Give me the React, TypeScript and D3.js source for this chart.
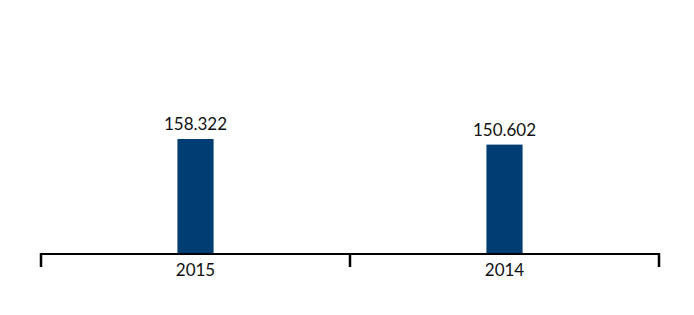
import React from "react";
import * as d3 from "d3";

const categories = ["2015", "2014"];
const values = [158.322, 150.602];
const valueLabels = ["158.322", "150.602"];

export default function App() {
  const width = 694;
  const height = 315;
  const x = d3.scaleBand<string>().domain(categories).range([41, 659]).padding(0);
  const y = d3.scaleLinear().domain([0, 300]).range([254, 254 - 217.9]);
  const barW = x.bandwidth() * 0.117;
  const ticks = [41, ...categories.map((c) => (x(c) as number) + x.bandwidth())];
  const font = "Lato, 'Open Sans', sans-serif";
  return (
    <svg width={width} height={height} style={{ position: "absolute", left: 0, top: 0, background: "#fff" }}>
      {categories.map((c, i) => {
        const cx = (x(c) as number) + x.bandwidth() / 2;
        return (
          <g key={c}>
            <rect x={cx - barW / 2} y={y(values[i])} width={barW} height={y(0) - y(values[i])} fill="#003d73" />
            <text x={cx} y={y(values[i]) - 9} textAnchor="middle" fontFamily={font} fontSize={17} fill="#111">
              {valueLabels[i]}
            </text>
            <text x={cx} y={276} textAnchor="middle" fontFamily={font} fontSize={17} fill="#111">
              {c}
            </text>
          </g>
        );
      })}
      <line x1={40} x2={660} y1={254} y2={254} stroke="#000" strokeWidth={2} />
      {ticks.map((t, i) => (
        <line key={i} x1={t} x2={t} y1={253} y2={267} stroke="#000" strokeWidth={2.5} />
      ))}
    </svg>
  );
}
